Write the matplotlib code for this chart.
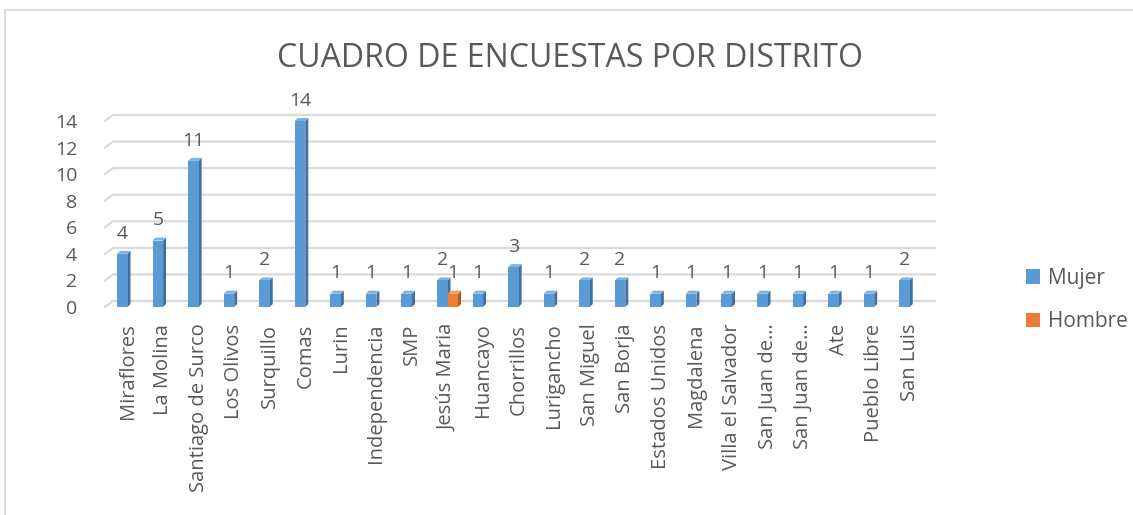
import numpy as np
import matplotlib
matplotlib.use("Agg")
import matplotlib.pyplot as plt
from matplotlib.patches import Polygon, Rectangle, Patch

distritos = ["Miraflores", "La Molina", "Santiago de Surco", "Los Olivos", "Surquillo",
             "Comas", "Lurin", "Independencia", "SMP", "Jesús Maria", "Huancayo",
             "Chorrillos", "Lurigancho", "San Miguel", "San Borja", "Estados Unidos",
             "Magdalena", "Villa el Salvador", "San Juan de…", "San Juan de…", "Ate",
             "Pueblo Libre", "San Luis"]
mujer = [4, 5, 11, 1, 2, 14, 1, 1, 1, 2, 1, 3, 1, 2, 2, 1, 1, 1, 1, 1, 1, 1, 2]
hombre = [np.nan] * 9 + [1] + [np.nan] * 13
yticks = [0, 2, 4, 6, 8, 10, 12, 14]

TEXT = "#595959"
GRID = "#D9D9D9"
series = [("Mujer", mujer, "#5B9BD5", "#41719C", "#7FB2E0"),
          ("Hombre", hombre, "#ED7D31", "#AE5A21", "#F29B63")]

plt.rcParams["font.family"] = ["Open Sans", "DejaVu Sans"]

W, H = 1133, 515
fig = plt.figure(figsize=(W / 100, H / 100), dpi=100)

# axes placement in pixels (front plane)
px_l, px_r, px_b, px_t = 105, 935, 307, 121
ax = fig.add_axes([px_l / W, (H - px_b) / H, (px_r - px_l) / W, (px_b - px_t) / H])
xlim = (-0.633, 22.71)
ylim = (0, 14)
ax.set_xlim(*xlim)
ax.set_ylim(*ylim)
for s in ax.spines.values():
    s.set_visible(False)

ux = (px_r - px_l) / (xlim[1] - xlim[0])   # px per x unit
uy = (px_b - px_t) / (ylim[1] - ylim[0])   # px per y unit

# gridlines on the back wall with a little slanted floor edge
gx, gy = 8 / ux, 6 / uy
for v in yticks:
    ax.plot([xlim[0], xlim[0] + gx, xlim[1]], [v, v + gy, v + gy],
            color=GRID, lw=1.6, clip_on=False, zorder=1)

# 3D-ish bars
bw = 10.5 / ux
dx, dy = 3 / ux, 3 / uy
x = np.arange(len(distritos))
for k, (name, vals, front, side, top) in enumerate(series):
    for i, h in enumerate(vals):
        if np.isnan(h):
            continue
        x0 = x[i] - bw + k * bw
        ax.add_patch(Polygon([(x0 + bw, 0), (x0 + bw + dx, dy), (x0 + bw + dx, h + dy), (x0 + bw, h)],
                             closed=True, fc=side, ec="none", zorder=3, clip_on=False))
        ax.add_patch(Polygon([(x0, h), (x0 + dx, h + dy), (x0 + bw + dx, h + dy), (x0 + bw, h)],
                             closed=True, fc=top, ec="none", zorder=3, clip_on=False))
        ax.add_patch(Rectangle((x0, 0), bw, h, fc=front, ec="none", zorder=4, clip_on=False))
        ax.annotate(f"{int(h)}", (x0 + bw / 2, h), xytext=(0, 11), textcoords="offset points",
                    ha="center", va="baseline", fontsize=14, color=TEXT, annotation_clip=False)

ax.set_xticks(x)
ax.set_xticklabels(distritos, rotation=90, fontsize=14.5, color=TEXT)
ax.set_yticks(yticks)
ax.set_yticklabels([str(v) for v in yticks], fontsize=14, color=TEXT)
ax.tick_params(axis="x", length=0, pad=12)
ax.tick_params(axis="y", length=0, pad=20)

fig.text(0.503, 0.887, "CUADRO DE ENCUESTAS POR DISTRITO", ha="center", va="center",
         fontsize=23, color=TEXT)

handles = [Patch(fc=c, ec="none") for _, _, c, _, _ in series]
fig.legend(handles, [s[0] for s in series], loc="center left",
           bbox_to_anchor=(1007 / W, (H - 300) / H), frameon=False,
           fontsize=15, labelcolor=TEXT, handlelength=0.7, handleheight=0.7,
           handletextpad=0.35, labelspacing=1.1)

# chart area border (right and bottom edges fall outside the picture)
fig.patches.append(Rectangle((5 / W, -10 / H), 1140 / W, 515 / H, transform=fig.transFigure,
                             fill=False, ec=GRID, lw=1.2))

fig.savefig("out.png", dpi=100)
